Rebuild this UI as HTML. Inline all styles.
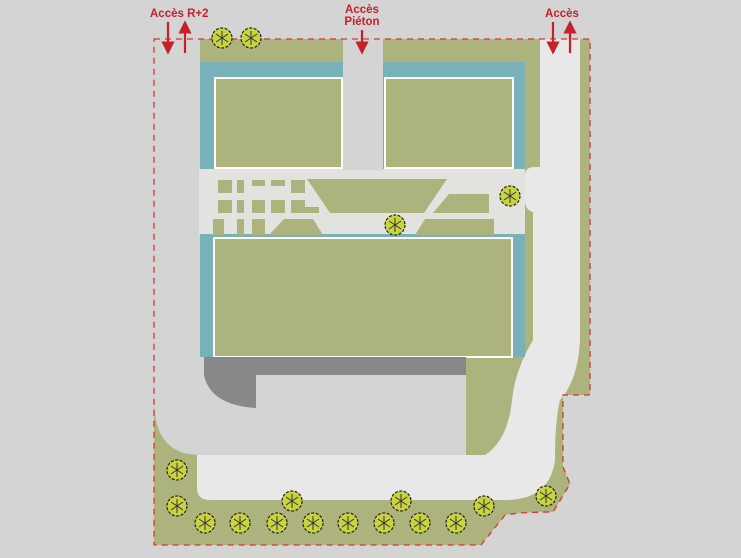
<!DOCTYPE html>
<html><head><style>body{margin:0;background:#d4d4d4}svg{display:block}text{font-family:"Liberation Sans",sans-serif;font-weight:bold;font-size:11.5px;fill:#c8202a}</style></head><body>
<svg width="741" height="558" viewBox="0 0 741 558">
<defs>
<g id="t"><circle r="10" fill="#c9d33a" stroke="#222" stroke-width="1.2" stroke-dasharray="3 1.5"/><path d="M-6 -4L6 4M-6 4L6 -4M0 -7V7" stroke="#334" stroke-width="1"/></g>
<marker id="a" markerWidth="6" markerHeight="6" refX="3" refY="3" orient="auto"><path d="M0 0L6 3L0 6z" fill="#c8202a"/></marker>
</defs>
<rect width="741" height="558" fill="#d4d4d4"/>
<path d="M154 39H590V395H563V467L570 484L553 512Q520 512 505 515L481 545H154Z" fill="#adb37c"/>
<path d="M154 39H200V357H466V455H200Q154 455 154 400Z" fill="#d3d4d4"/>
<path d="M540 39H580V340Q578 380 560 400Q555 420 555 460Q550 500 505 500H210Q197 500 197 488V455H485Q508 440 512 400Q515 370 533 340V212Q525 210 525 200V175Q525 167 535 167H540Z" fill="#e8e8e8"/>
<rect x="199" y="169" width="326" height="66" fill="#e2e3df"/>
<rect x="343" y="39" width="40" height="131" fill="#d4d4d4"/>
<rect x="200" y="62" width="143" height="107" fill="#78b2b8"/><rect x="215" y="78" width="127" height="90" fill="#adb37c" stroke="#fff" stroke-width="2"/>
<rect x="383" y="62" width="142" height="107" fill="#78b2b8"/><rect x="385" y="78" width="128" height="90" fill="#adb37c" stroke="#fff" stroke-width="2"/>
<rect x="200" y="234" width="325" height="123" fill="#78b2b8"/><rect x="214" y="238" width="298" height="119" fill="#adb37c" stroke="#fff" stroke-width="2"/>
<rect x="256" y="357" width="210" height="18" fill="#86888a"/>
<path d="M204 357H256V408Q210 405 204 375Z" fill="#86888a"/>
<g fill="#adb37c">
<rect x="218" y="180" width="14" height="13"/><rect x="237" y="180" width="7" height="13"/><rect x="252" y="180" width="13" height="6"/><rect x="271" y="180" width="14" height="6"/><rect x="291" y="180" width="14" height="13"/>
<rect x="218" y="200" width="14" height="13"/><rect x="237" y="200" width="7" height="13"/><rect x="252" y="200" width="13" height="13"/><rect x="271" y="200" width="14" height="13"/><path d="M291 200H305V207H319V213H291Z"/>
<rect x="213" y="219" width="11" height="16"/><rect x="237" y="219" width="7" height="16"/><rect x="252" y="219" width="13" height="16"/><path d="M269 235L284 219H313L323 235Z"/>
<path d="M307 179H447L424 213H330Z"/><path d="M449 194H489V213H433Z"/><path d="M425 219H494V235H415Z"/>
</g>
<path d="M154 39H590V395H563V467L570 484L553 512Q520 512 505 515L481 545H154Z" fill="none" stroke="#d33" stroke-width="1.3" stroke-dasharray="6 5"/>
<g stroke="#c8202a" stroke-width="2.2">
<line x1="168" y1="22" x2="168" y2="48" marker-end="url(#a)"/><line x1="185" y1="53" x2="185" y2="27" marker-end="url(#a)"/>
<line x1="362" y1="30" x2="362" y2="48" marker-end="url(#a)"/>
<line x1="553" y1="22" x2="553" y2="48" marker-end="url(#a)"/><line x1="570" y1="53" x2="570" y2="27" marker-end="url(#a)"/>
</g>
<text x="150" y="17">Accès R+2</text>
<text x="362" y="13" text-anchor="middle">Accès</text><text x="362" y="25" text-anchor="middle">Piéton</text>
<text x="562" y="17" text-anchor="middle">Accès</text>
<use href="#t" x="222" y="38"/><use href="#t" x="251" y="38"/><use href="#t" x="510" y="196"/><use href="#t" x="395" y="225"/>
<use href="#t" x="177" y="470"/><use href="#t" x="177" y="506"/><use href="#t" x="205" y="523"/><use href="#t" x="240" y="523"/><use href="#t" x="277" y="523"/><use href="#t" x="313" y="523"/><use href="#t" x="348" y="523"/><use href="#t" x="384" y="523"/><use href="#t" x="420" y="523"/><use href="#t" x="456" y="523"/><use href="#t" x="292" y="501"/><use href="#t" x="401" y="501"/><use href="#t" x="484" y="506"/><use href="#t" x="546" y="496"/>
</svg>
</body></html>
